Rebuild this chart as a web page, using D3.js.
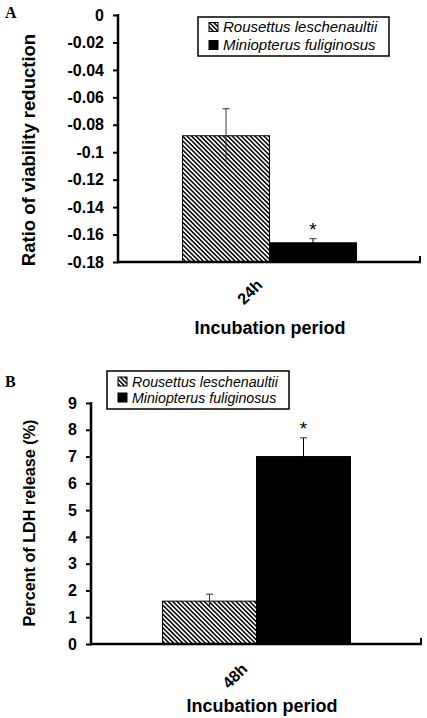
<!DOCTYPE html>
<html><head><meta charset="utf-8">
<script src="https://cdn.jsdelivr.net/npm/d3@7"></script>
<style>
body{margin:0;background:#fff;}
svg{display:block;font-family:Arial, "Liberation Sans", sans-serif;}
</style></head>
<body>
<svg id="chart" width="427" height="718"></svg>
<script>
// ---- data ----
const seriesNames = ["Rousettus leschenaultii", "Miniopterus fuliginosus"];
const categoriesA = ["24h"];
const valuesA = [-0.088, -0.166];
const errorsA = [0.0197, 0.003];
const significantA = [false, true];
const ticksA = [0, -0.02, -0.04, -0.06, -0.08, -0.1, -0.12, -0.14, -0.16, -0.18];
const tickLabelsA = ["0", "-0.02", "-0.04", "-0.06", "-0.08", "-0.1", "-0.12", "-0.14", "-0.16", "-0.18"];

const categoriesB = ["48h"];
const valuesB = [1.6, 7.0];
const errorsB = [0.26, 0.7];
const significantB = [false, true];
const ticksB = [0, 1, 2, 3, 4, 5, 6, 7, 8, 9];

const svg = d3.select("#chart");
const defs = svg.append("defs");
const pat = defs.append("pattern")
  .attr("id", "hatch").attr("patternUnits", "userSpaceOnUse")
  .attr("width", 3.2).attr("height", 10)
  .attr("patternTransform", "rotate(-45)");
pat.append("rect").attr("width", 3.2).attr("height", 10).attr("fill", "#fff");
pat.append("line").attr("x1", 0.8).attr("x2", 0.8).attr("y1", 0).attr("y2", 10)
  .attr("stroke", "#000").attr("stroke-width", 1.5);

const fills = ["url(#hatch)", "#000"];

function panel(cfg) {
  const g = svg.append("g");
  const y = d3.scaleLinear().domain(cfg.domain).range([cfg.yBottom, cfg.yTop]);
  const x0 = d3.scaleBand().domain(cfg.categories).range([cfg.xLeft, cfg.xRight]);
  const bw = x0.bandwidth();
  const x1 = d3.scaleBand().domain(seriesNames)
    .range([bw * cfg.gap, bw * (1 - cfg.gap)]).padding(0);

  // bars
  const base = cfg.domain[0];
  seriesNames.forEach((s, i) => {
    const v = cfg.values[i];
    const xb = x0(cfg.categories[0]) + x1(s);
    g.append("rect")
      .attr("x", xb).attr("width", x1.bandwidth())
      .attr("y", y(v)).attr("height", y(base) - y(v))
      .attr("fill", fills[i]).attr("stroke", "#000").attr("stroke-width", 1);
    // error bar
    const cx = xb + x1.bandwidth() / 2;
    const top = v + cfg.errors[i];
    const bot = v - cfg.errors[i];
    g.append("line").attr("x1", cx).attr("x2", cx)
      .attr("y1", y(top)).attr("y2", y(bot))
      .attr("stroke", i === 1 ? "#000" : "#333").attr("stroke-width", 1);
    g.append("line").attr("x1", cx - 3.5).attr("x2", cx + 3.5)
      .attr("y1", y(top)).attr("y2", y(top))
      .attr("stroke", "#333").attr("stroke-width", 1);
    if (cfg.sig[i]) {
      g.append("text").attr("x", cx).attr("y", y(top) - 3)
        .attr("text-anchor", "middle").attr("font-size", 19)
        .text("*");
    }
  });

  // y axis
  const yAxis = d3.axisLeft(y).tickValues(cfg.ticks).tickSize(5).tickPadding(9)
    .tickFormat((d, i) => cfg.tickLabels[i]);
  const ya = g.append("g").attr("transform", `translate(${cfg.xLeft},0)`).call(yAxis);
  ya.select(".domain").remove();
  ya.selectAll(".tick line").attr("stroke-width", 2);
  ya.selectAll(".tick text").attr("font-size", 16).attr("font-weight", "bold")
    .attr("font-family", "Arial, 'Liberation Sans', sans-serif").attr("fill", "#000");
  g.append("line").attr("x1", cfg.xLeft).attr("x2", cfg.xLeft)
    .attr("y1", cfg.yTop - 1).attr("y2", cfg.yBottom + 1.25)
    .attr("stroke", "#000").attr("stroke-width", 2.5);
  // x axis
  g.append("line").attr("x1", cfg.xLeft).attr("x2", cfg.xRight)
    .attr("y1", cfg.yBottom).attr("y2", cfg.yBottom)
    .attr("stroke", "#000").attr("stroke-width", 2.5);
  g.append("line").attr("x1", cfg.xRight - 1).attr("x2", cfg.xRight - 1)
    .attr("y1", cfg.yBottom - 6).attr("y2", cfg.yBottom)
    .attr("stroke", "#000").attr("stroke-width", 2);

  // category label
  const cxc = x0(cfg.categories[0]) + bw / 2;
  g.append("text")
    .attr("transform", `translate(${cxc + cfg.catDx},${cfg.yBottom + cfg.catDy}) rotate(-45)`)
    .attr("text-anchor", "end").attr("font-size", 16).attr("font-weight", "bold")
    .text(cfg.categories[0]);
  // x title
  g.append("text").attr("x", cfg.xTitleX).attr("y", cfg.xTitleY)
    .attr("text-anchor", "middle").attr("font-size", 18).attr("font-weight", "bold")
    .text("Incubation period");
  // y title
  g.append("text")
    .attr("transform", `translate(${cfg.yTitleX},${cfg.yTitleY}) rotate(-90)`)
    .attr("text-anchor", "middle").attr("font-size", cfg.yTitleSize).attr("font-weight", "bold")
    .text(cfg.yTitle);
  // panel letter
  g.append("text").attr("x", cfg.letterX).attr("y", cfg.letterY)
    .attr("font-family", "'Liberation Serif', 'Times New Roman', serif")
    .attr("font-size", 16).attr("font-weight", "bold").text(cfg.letter);

  // legend
  const L = cfg.legend;
  g.append("rect").attr("x", L.x).attr("y", L.y).attr("width", L.w).attr("height", L.h)
    .attr("fill", "#fff").attr("stroke", "#000").attr("stroke-width", 1.5);
  seriesNames.forEach((s, i) => {
    const ry = L.y + L.row0 + i * L.rowStep;
    g.append("rect").attr("x", L.x + 11).attr("y", ry - 4.5).attr("width", 9).attr("height", 9)
      .attr("fill", fills[i]).attr("stroke", "#000").attr("stroke-width", 1);
    g.append("text").attr("x", L.x + 25).attr("y", ry + 5)
      .attr("font-size", L.font).attr("font-style", "italic").text(s);
  });
}

panel({
  letter: "A", letterX: 5, letterY: 18,
  categories: categoriesA, values: valuesA, errors: errorsA, sig: significantA,
  domain: [-0.18, 0], ticks: ticksA, tickLabels: tickLabelsA,
  yTop: 15, yBottom: 262, xLeft: 118, xRight: 421, gap: 0.213,
  catDx: -6, catDy: 24,
  xTitleX: 270, xTitleY: 334,
  yTitle: "Ratio of viability reduction", yTitleX: 35, yTitleY: 150, yTitleSize: 18.5,
  legend: {x: 198, y: 17, w: 191, h: 39, row0: 10, rowStep: 18, font: 15}
});

panel({
  letter: "B", letterX: 5, letterY: 387,
  categories: categoriesB, values: valuesB, errors: errorsB, sig: significantB,
  domain: [0, 9], ticks: ticksB, tickLabels: ticksB.map(String),
  yTop: 403, yBottom: 644, xLeft: 91, xRight: 422, gap: 0.216,
  catDx: -8, catDy: 26,
  xTitleX: 262, xTitleY: 712,
  yTitle: "Percent of LDH release (%)", yTitleX: 35, yTitleY: 523, yTitleSize: 16.2,
  legend: {x: 107, y: 371, w: 182, h: 38, row0: 10.5, rowStep: 16, font: 14.2}
});
</script>
</body></html>
